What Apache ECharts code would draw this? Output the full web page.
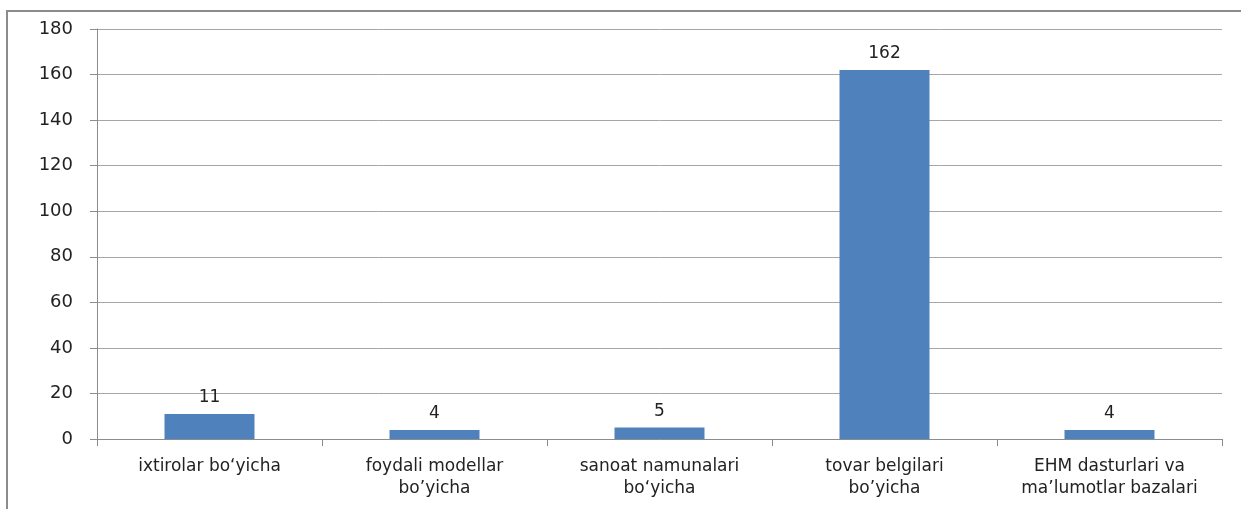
<!DOCTYPE html>
<html>
<head>
<meta charset="utf-8">
<script src="https://cdn.jsdelivr.net/npm/echarts@6/dist/echarts.min.js"></script>
<style>
html, body { margin: 0; padding: 0; background: #fff; }
#chart { width: 1241px; height: 509px; }
</style>
</head>
<body>
<div id="chart"></div>
<script>
// kategoriyalar va qiymatlar
const categories = [
    'ixtirolar bo\u2018yicha',
    'foydali modellar\nbo\u2019yicha',
    'sanoat namunalari\nbo\u2018yicha',
    'tovar belgilari\nbo\u2019yicha',
    'EHM dasturlari va\nma\u2019lumotlar bazalari'
];
const values = [11, 4, 5, 162, 4];
const yTicks = [0, 20, 40, 60, 80, 100, 120, 140, 160, 180];

const font = '"DejaVu Sans", sans-serif';
let myChart = echarts.init(document.getElementById('chart'));
let option = {
    animation: false,
    backgroundColor: '#fff',
    graphic: [{
        type: 'rect',
        shape: { x: 7, y: 11, width: 1300, height: 600 },
        style: { fill: 'none', stroke: '#8c8c8c', lineWidth: 2 },
        silent: true
    }],
    grid: { left: 97, right: 19, top: 29, bottom: 70, containLabel: false },
    xAxis: {
        type: 'category',
        data: categories,
        axisLine: { lineStyle: { color: '#8c8c8c' } },
        axisTick: { show: true, length: 7, lineStyle: { color: '#8c8c8c' } },
        axisLabel: {
            interval: 0,
            margin: 17,
            color: '#222',
            fontFamily: font,
            fontSize: 17,
            lineHeight: 22
        }
    },
    yAxis: {
        type: 'value',
        min: yTicks[0],
        max: yTicks[yTicks.length - 1],
        interval: 20,
        axisLine: { show: true, lineStyle: { color: '#8c8c8c' } },
        axisTick: { show: true, length: 7, inside: false, lineStyle: { color: '#8c8c8c' } },
        splitLine: { lineStyle: { color: '#a6a6a6' } },
        axisLabel: {
            margin: 24,
            color: '#222',
            fontFamily: font,
            fontSize: 18
        }
    },
    series: [{
        type: 'bar',
        data: values,
        barWidth: '40%',
        itemStyle: { color: '#4f81bd' },
        label: {
            show: true,
            position: 'top',
            distance: 8,
            color: '#222',
            fontFamily: font,
            fontSize: 17
        }
    }]
};
myChart.setOption(option);
</script>
</body>
</html>
